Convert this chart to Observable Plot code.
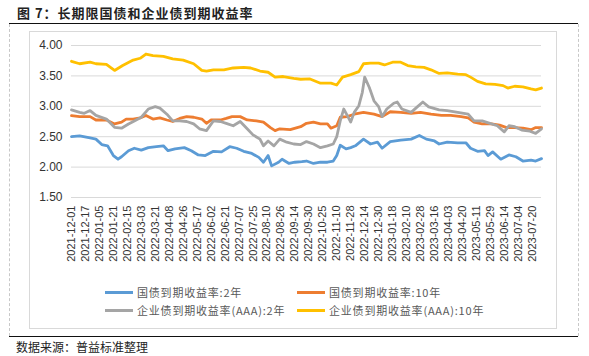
<!DOCTYPE html>
<html><head><meta charset="utf-8">
<script src="https://cdn.jsdelivr.net/npm/d3@7"></script>
<script src="https://cdn.jsdelivr.net/npm/@observablehq/plot@0.6"></script>
<style>
body{margin:0;background:#fff;}
#wrap{position:relative;width:589px;height:356px;overflow:hidden;background:#fff;font-family:"Noto Sans CJK SC",sans-serif;}
.abs{position:absolute;}
#title{left:17px;top:3px;font-size:13px;font-weight:bold;letter-spacing:1px;color:#222;white-space:nowrap;}
#src{left:16px;top:338px;font-size:12px;color:#222;white-space:nowrap;}
.leg{position:absolute;font-size:11px;color:#595959;letter-spacing:0.8px;white-space:nowrap;line-height:14px;}
.sw{position:absolute;height:3px;}
#chart{position:absolute;left:0;top:30px;}
</style></head><body>
<div id="wrap">
  <div id="title" class="abs">图 7：长期限国债和企业债到期收益率</div>
  <div class="abs" style="left:9px;top:23px;width:569px;height:0;border-top:1.5px solid #111;"></div>
  <div class="abs" style="left:9px;top:24px;width:0;height:312px;border-left:1px dashed #c8c8c8;"></div>
  <div class="abs" style="left:578px;top:24px;width:0;height:312px;border-left:1px dashed #c8c8c8;"></div>
  <div class="abs" style="left:29px;top:31px;width:528px;height:298px;border:1px solid #d9d9d9;box-sizing:border-box;"></div>
  <div class="abs" style="left:9px;top:336px;width:569px;height:0;border-top:1.5px solid #111;"></div>
  <div id="src" class="abs">数据来源：普益标准整理</div>
  <div id="chart"></div>
  <div id="legend"></div>
</div>
<script>
const tickLabels = ["2021-12-01","2021-12-17","2022-01-05","2022-01-21","2022-02-15","2022-03-03","2022-03-21","2022-04-08","2022-04-26","2022-05-17","2022-06-02","2022-06-21","2022-07-07","2022-07-25","2022-08-10","2022-08-26","2022-09-14","2022-09-30","2022-10-25","2022-11-10","2022-11-28","2022-12-14","2022-12-30","2023-01-18","2023-02-10","2023-02-28","2023-03-16","2023-04-03","2023-04-20","2023-05-11","2023-05-29","2023-06-14","2023-07-04","2023-07-20"];
const seriesNames = ["国债到期收益率:2年","国债到期收益率:10年","企业债到期收益率(AAA):2年","企业债到期收益率(AAA):10年"];
const seriesColors = ["#5B9BD5","#ED7D31","#A5A5A5","#FFC000"];
const yTicks = [1.5,2.0,2.5,3.0,3.5,4.0];

// trading-day index of each reading, and the yield read there
const gov2Idx = [0,7,16,21,26,31,36,40,43,49,54,60,66,73,79,83,89,97,103,109,115,122,129,136,142,148,155,161,165,169,172,178,181,187,192,198,202,208,214,220,225,228,231,236,240,244,251,257,263,267,274,283,292,299,305,312,316,323,332,339,343,349,355,358,362,369,376,382,388,395,399,404];
const gov2Val = [2.50,2.515,2.48,2.46,2.37,2.35,2.19,2.13,2.17,2.27,2.31,2.28,2.32,2.335,2.35,2.27,2.30,2.32,2.27,2.20,2.19,2.26,2.25,2.335,2.31,2.26,2.225,2.16,2.08,2.19,2.02,2.08,2.13,2.06,2.08,2.09,2.10,2.06,2.08,2.08,2.10,2.19,2.36,2.30,2.32,2.35,2.46,2.38,2.41,2.31,2.42,2.445,2.46,2.52,2.46,2.43,2.38,2.41,2.40,2.40,2.31,2.26,2.27,2.19,2.25,2.13,2.20,2.17,2.10,2.115,2.10,2.14];

const gov10Idx = [0,7,16,21,30,37,43,47,53,59,64,70,76,82,87,93,99,105,112,116,120,128,133,138,145,151,159,165,171,175,179,188,194,197,202,208,214,220,223,228,231,237,243,251,260,267,274,283,292,300,309,318,326,335,341,346,353,361,368,374,381,388,395,399,404];
const gov10Val = [2.846,2.83,2.83,2.775,2.775,2.71,2.74,2.79,2.79,2.81,2.85,2.79,2.81,2.775,2.75,2.80,2.83,2.82,2.79,2.72,2.775,2.775,2.80,2.83,2.83,2.775,2.76,2.74,2.65,2.60,2.63,2.615,2.65,2.665,2.72,2.74,2.71,2.71,2.64,2.68,2.82,2.83,2.87,2.90,2.87,2.83,2.91,2.90,2.885,2.90,2.87,2.85,2.85,2.83,2.81,2.74,2.71,2.71,2.69,2.65,2.65,2.64,2.615,2.65,2.65];

const corp2Idx = [0,7,11,16,21,30,37,43,49,54,60,66,72,76,82,87,93,99,105,110,116,122,128,133,139,145,151,156,162,165,169,174,179,185,191,197,202,208,214,220,225,228,231,234,237,240,243,247,250,252,256,260,264,267,271,277,280,284,292,296,302,307,316,323,332,341,346,353,361,366,372,376,381,387,394,399,404];
const corp2Val = [2.94,2.90,2.885,2.93,2.85,2.79,2.655,2.64,2.71,2.76,2.82,2.955,2.995,2.97,2.87,2.76,2.76,2.75,2.71,2.63,2.60,2.76,2.75,2.72,2.68,2.75,2.63,2.53,2.46,2.35,2.43,2.35,2.46,2.41,2.38,2.37,2.42,2.38,2.32,2.35,2.38,2.50,2.76,2.955,2.85,2.74,2.90,3.01,3.23,3.48,3.31,3.09,2.995,2.83,2.955,3.05,3.07,2.955,2.90,2.97,3.07,2.99,2.94,2.93,2.90,2.87,2.76,2.76,2.71,2.68,2.58,2.68,2.665,2.61,2.59,2.555,2.63];

const corp10Idx = [0,7,16,21,30,37,44,53,59,64,70,79,87,96,105,112,116,122,131,139,148,154,162,169,175,182,191,197,205,214,223,228,233,240,247,251,257,264,269,276,283,289,296,303,309,316,323,332,339,343,349,356,364,371,375,381,388,395,399,404];
const corp10Val = [3.74,3.70,3.725,3.70,3.69,3.59,3.67,3.76,3.79,3.86,3.835,3.82,3.78,3.76,3.70,3.59,3.58,3.60,3.60,3.63,3.64,3.63,3.58,3.56,3.48,3.49,3.46,3.445,3.45,3.38,3.38,3.35,3.48,3.52,3.57,3.70,3.71,3.71,3.68,3.725,3.725,3.67,3.65,3.64,3.60,3.54,3.55,3.53,3.52,3.48,3.41,3.37,3.36,3.34,3.30,3.33,3.32,3.285,3.27,3.30];

const allIdx = [gov2Idx, gov10Idx, corp2Idx, corp10Idx];
const allVal = [gov2Val, gov10Val, corp2Val, corp10Val];
const rows = [];
seriesNames.forEach((s, k) => allIdx[k].forEach((i, j) => rows.push({s, i, v: allVal[k][j]})));
const tickIdx = tickLabels.map((d, k) => k * 12);

const chart = Plot.plot({
  width: 589, height: 240,
  marginLeft: 71, marginRight: 48, marginTop: 15, marginBottom: 73,
  style: {fontFamily: "'Liberation Sans', Arial, sans-serif", background: "transparent", overflow: "visible"},
  x: {domain: [0, 404]},
  y: {domain: [1.5, 4.0]},
  color: {domain: seriesNames, range: seriesColors},
  marks: [
    Plot.gridY(yTicks.slice(1), {stroke: "#d9d9d9", strokeOpacity: 1, strokeWidth: 1}),
    Plot.ruleY([1.5], {stroke: "#d9d9d9", strokeWidth: 1}),
    Plot.axisY(yTicks, {tickSize: 0, tickPadding: 9, tickFormat: d3.format(".2f"), fontSize: 12, fill: "#333", label: null}),
    Plot.axisX(tickIdx, {tickSize: 0, tickPadding: 8, tickRotate: -90, tickFormat: i => tickLabels[i / 12], fontSize: 11, fill: "#333", label: null}),
    Plot.line(rows, {x: "i", y: "v", z: "s", stroke: "s", strokeWidth: 2.8, strokeLinejoin: "round"})
  ]
});
document.getElementById("chart").appendChild(chart);

const legendPos = [[105, 292], [297, 292], [105, 310], [297, 310]];
const legend = document.getElementById("legend");
seriesNames.forEach((name, k) => {
  const [lx, ly] = legendPos[k];
  const sw = document.createElement("div");
  sw.className = "sw";
  sw.style.left = lx + "px"; sw.style.top = (ly - 1.5) + "px"; sw.style.width = "28px";
  sw.style.background = seriesColors[k];
  legend.appendChild(sw);
  const t = document.createElement("div");
  t.className = "leg";
  t.style.left = (lx + 32) + "px"; t.style.top = (ly - 7) + "px";
  t.textContent = name;
  legend.appendChild(t);
});
</script>
</body></html>
